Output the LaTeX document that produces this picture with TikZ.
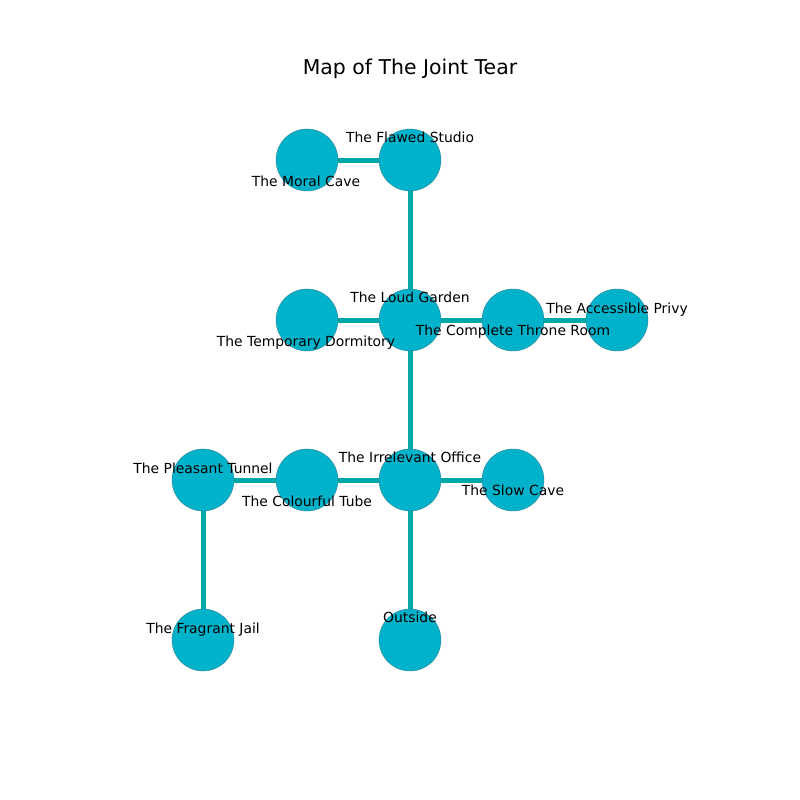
\documentclass[tikz,border=0pt]{standalone}
\usepackage{fontspec}
\setmainfont{DejaVu Sans}
\definecolor{nodefill}{RGB}{0,178,202}
\definecolor{edgecol}{RGB}{0,168,168}
\definecolor{nodeedge}{RGB}{40,130,150}
\begin{document}
\begin{tikzpicture}[x=0.72pt,y=-0.72pt,
  room/.style={circle,fill=nodefill,draw=nodeedge,line width=0.3pt,minimum size=44.6pt,inner sep=0pt},
  link/.style={edgecol,line width=3.6pt},
  lbl/.style={font=\fontsize{10}{12}\selectfont,inner sep=0pt,text=black}]
\useasboundingbox (0,0) rectangle (800,800);
\coordinate (pMoral) at (307,160);
\coordinate (pFlawed) at (410,160);
\coordinate (pTemp) at (307,320);
\coordinate (pLoud) at (410,320);
\coordinate (pThrone) at (513,320);
\coordinate (pPrivy) at (617,320);
\coordinate (pPleasant) at (203,480);
\coordinate (pColour) at (307,480);
\coordinate (pIrr) at (410,480);
\coordinate (pSlow) at (513,480);
\coordinate (pJail) at (203,640);
\coordinate (pOut) at (410,640);
\draw[link] (pMoral) -- (pFlawed);
\draw[link] (pFlawed) -- (pLoud);
\draw[link] (pTemp) -- (pLoud);
\draw[link] (pLoud) -- (pThrone);
\draw[link] (pThrone) -- (pPrivy);
\draw[link] (pLoud) -- (pIrr);
\draw[link] (pPleasant) -- (pColour);
\draw[link] (pColour) -- (pIrr);
\draw[link] (pIrr) -- (pSlow);
\draw[link] (pPleasant) -- (pJail);
\draw[link] (pIrr) -- (pOut);
\node[room] (moral) at (pMoral) {};
\node[room] (flawed) at (pFlawed) {};
\node[room] (temp) at (pTemp) {};
\node[room] (loud) at (pLoud) {};
\node[room] (throne) at (pThrone) {};
\node[room] (privy) at (pPrivy) {};
\node[room] (pleasant) at (pPleasant) {};
\node[room] (colour) at (pColour) {};
\node[room] (irr) at (pIrr) {};
\node[room] (slow) at (pSlow) {};
\node[room] (jail) at (pJail) {};
\node[room] (out) at (pOut) {};
\node[lbl] (tFlawed) at (410,137) {The Flawed Studio};
\node[lbl] (tMoral) at (306,181) {The Moral Cave};
\node[lbl] (tLoud) at (410,297) {The Loud Garden};
\node[lbl] (tTemp) at (306,343) {The Temporary Dormitory};
\node[lbl] (tThrone) at (513,332) {The Complete Throne Room};
\node[lbl] (tPrivy) at (617,310) {The Accessible Privy};
\node[lbl] (tPleasant) at (203,468) {The Pleasant Tunnel};
\node[lbl] (tColour) at (307,501) {The Colourful Tube};
\node[lbl] (tIrr) at (410,457) {The Irrelevant Office};
\node[lbl] (tSlow) at (513,490) {The Slow Cave};
\node[lbl] (tJail) at (203,630) {The Fragrant Jail};
\node[lbl] (tOut) at (410,617) {Outside};
\node[lbl,font=\fontsize{14.7}{17}\selectfont] (title) at (410,69) {Map of The Joint Tear};
\end{tikzpicture}
\end{document}
